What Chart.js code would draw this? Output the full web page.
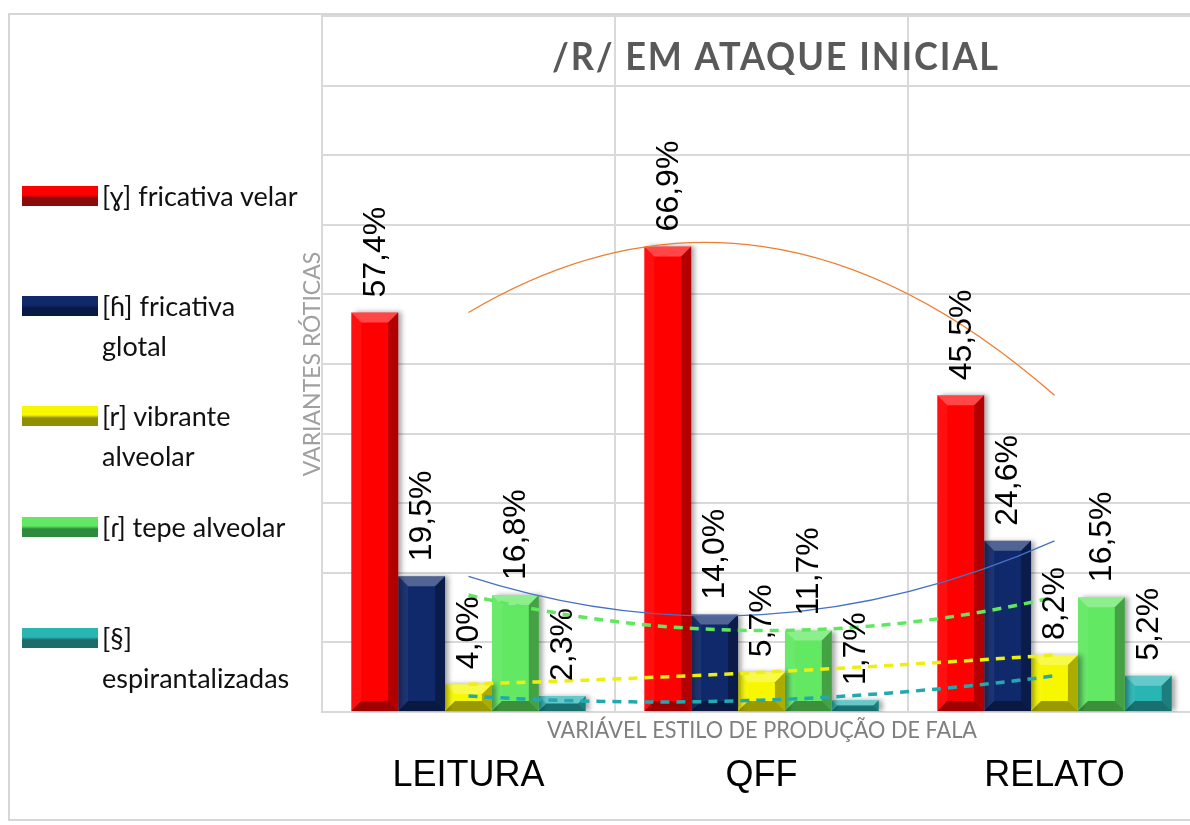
<!DOCTYPE html>
<html>
<head>
<meta charset="utf-8">
<script src="https://cdn.jsdelivr.net/npm/chart.js@4.4.0/dist/chart.umd.min.js"></script>
<style>
  html, body { margin: 0; padding: 0; background: #fff; overflow: hidden; width: 1190px; height: 825px; }
  #frame { position: absolute; left: 8px; top: 13px; width: 1220px; height: 808px; border: 2px solid #d6d6d6; border-right: none; box-sizing: border-box; }
  #legend { position: absolute; left: 0; top: 0; font-family: Lato, "Open Sans", "DejaVu Sans", sans-serif; font-size: 27px; color: #111; }
  .item { position: absolute; left: 22px; }
  .sw { position: absolute; left: 0; top: 10px; width: 76px; height: 20px; }
  .txt { position: absolute; left: 80px; top: 0; line-height: 40px; white-space: nowrap; }
</style>
</head>
<body>
<div id="frame"></div>
<canvas id="rChart" width="1215" height="825" style="position:absolute;left:0;top:0"></canvas>
<div id="legend"></div>
<script>
// Data
const categories = ["LEITURA", "QFF", "RELATO"];
const velar = [57.4, 66.9, 45.5];
const glotal = [19.5, 14.0, 24.6];
const vibrante = [4.0, 5.7, 8.2];
const tepe = [16.8, 11.7, 16.5];
const espirant = [2.3, 1.7, 5.2];
const yMax = 100;
const yStep = 10;

const legendLines = [
  ["[ɣ] fricativa velar"],
  ["[ɦ] fricativa", "glotal"],
  ["[r] vibrante", "alveolar"],
  ["[ɾ] tepe alveolar"],
  ["[§]", "espirantalizadas"]
];
const chartTitle = "/R/ EM ATAQUE INICIAL";
const yTitle = "VARIANTES RÓTICAS";
const xTitle = "VARIÁVEL ESTILO DE PRODUÇÃO DE FALA";

// Colours: bar face, dark edge, trendline
const barColors = ["#ff0000", "#10296b", "#f7f700", "#62e862", "#2ab5b5"];
const darkColors = ["#8b0a0a", "#071a45", "#8f8f00", "#2e8b3e", "#1d6b6b"];
const trendColors = ["#ed7d31", "#4472c4", "#eeee10", "#5fe85f", "#22a8b0"];

const series = [velar, glotal, vibrante, tepe, espirant];

// HTML legend
const legendTops = [176, 286, 396, 507, 618];
const legendEl = document.getElementById("legend");
legendLines.forEach((lines, i) => {
  const item = document.createElement("div");
  item.className = "item";
  item.style.top = legendTops[i] + "px";
  const sw = document.createElement("div");
  sw.className = "sw";
  sw.style.background = `linear-gradient(to bottom, ${barColors[i]} 0%, ${barColors[i]} 45%, ${darkColors[i]} 60%, ${darkColors[i]} 100%)`;
  const txt = document.createElement("div");
  txt.className = "txt";
  txt.innerHTML = lines.join("<br>");
  item.appendChild(sw);
  item.appendChild(txt);
  legendEl.appendChild(item);
});

// 3D look: shadow while drawing bars, bevels afterwards
const bevelPlugin = {
  id: "bevel",
  beforeDatasetDraw(chart, args) {
    if (args.meta.type !== "bar") return;
    const c = chart.ctx;
    c.save();
    c.shadowColor = "rgba(0,0,0,0.35)";
    c.shadowOffsetX = 4;
    c.shadowOffsetY = 0;
    c.shadowBlur = 5;
  },
  afterDatasetDraw(chart, args) {
    if (args.meta.type !== "bar") return;
    const c = chart.ctx;
    c.restore();
    args.meta.data.forEach(el => {
      const p = el.getProps(["x", "y", "base", "width"], true);
      const l = p.x - p.width / 2, r = p.x + p.width / 2, t = p.y, b = p.base;
      const s = Math.min(10, p.width / 4, (b - t) / 2);
      const quad = (pts, col) => {
        c.beginPath();
        c.moveTo(pts[0][0], pts[0][1]);
        for (let k = 1; k < pts.length; k++) c.lineTo(pts[k][0], pts[k][1]);
        c.closePath();
        c.fillStyle = col;
        c.fill();
      };
      quad([[l, t], [r, t], [r - s, t + s], [l + s, t + s]], "rgba(255,255,255,0.28)");
      quad([[l, t], [l + s, t + s], [l + s, b - s], [l, b]], "rgba(255,255,255,0.06)");
      quad([[r, t], [r, b], [r - s, b - s], [r - s, t + s]], "rgba(0,0,0,0.3)");
      quad([[l, b], [r, b], [r - s, b - s], [l + s, b - s]], "rgba(0,0,0,0.38)");
    });
  }
};

// Polynomial (order 2) trendlines: turn the line's bezier handles into the
// parabola through the three category points
const trendPlugin = {
  id: "quadTrend",
  beforeDatasetDraw(chart, args) {
    const meta = args.meta;
    if (meta.type !== "line" || meta.data.length !== 3) return;
    meta.dataset.updateControlPoints(chart.chartArea, meta.iScale.axis);
    const [p0, p1, p2] = meta.data;
    const cx = 2 * p1.x - (p0.x + p2.x) / 2;
    const cy = 2 * p1.y - (p0.y + p2.y) / 2;
    const q1x = (p0.x + cx) / 2, q1y = (p0.y + cy) / 2;
    const q2x = (cx + p2.x) / 2, q2y = (cy + p2.y) / 2;
    p0.cp2x = p0.x + 2 / 3 * (q1x - p0.x); p0.cp2y = p0.y + 2 / 3 * (q1y - p0.y);
    p1.cp1x = p1.x + 2 / 3 * (q1x - p1.x); p1.cp1y = p1.y + 2 / 3 * (q1y - p1.y);
    p1.cp2x = p1.x + 2 / 3 * (q2x - p1.x); p1.cp2y = p1.y + 2 / 3 * (q2y - p1.y);
    p2.cp1x = p2.x + 2 / 3 * (q2x - p2.x); p2.cp1y = p2.y + 2 / 3 * (q2y - p2.y);
    meta.dataset._path = undefined;
  }
};

// Rotated value labels above bars
const labelPlugin = {
  id: "valueLabels",
  afterDatasetsDraw(chart) {
    const c = chart.ctx;
    c.save();
    c.font = "32px 'Liberation Sans', Arial, sans-serif";
    c.fillStyle = "#000";
    c.textAlign = "left";
    c.textBaseline = "middle";
    chart.data.datasets.forEach((ds, i) => {
      const meta = chart.getDatasetMeta(i);
      if (meta.type !== "bar") return;
      meta.data.forEach((el, j) => {
        const txt = ds.data[j].toFixed(1).replace(".", ",") + "%";
        c.save();
        c.translate(el.x, el.y - 15);
        c.rotate(-Math.PI / 2);
        c.fillText(txt, 0, 1);
        c.restore();
      });
    });
    c.restore();
  }
};

// Title inside the plot and x-axis title above the tick labels
const textPlugin = {
  id: "extraText",
  afterDraw(chart) {
    const c = chart.ctx;
    c.save();
    c.textAlign = "center";
    c.textBaseline = "middle";
    c.font = "bold 38px Lato, 'Open Sans', sans-serif";
    c.letterSpacing = "2px";
    c.fillStyle = "#595959";
    let w = c.measureText(chartTitle).width;
    c.translate(776, 58);
    c.scale(448 / w, 1);
    c.fillText(chartTitle, 0, 0);
    c.restore();

    c.save();
    c.textAlign = "center";
    c.textBaseline = "middle";
    c.font = "23px Lato, 'Open Sans', sans-serif";
    c.fillStyle = "#7f7f7f";
    w = c.measureText(xTitle).width;
    c.translate(762, 731);
    c.scale(430 / w, 1);
    c.fillText(xTitle, 0, 0);
    c.restore();
  }
};

const barSets = series.map((vals, i) => ({
  type: "bar",
  data: vals,
  backgroundColor: barColors[i],
  borderWidth: 0,
  categoryPercentage: 0.8,
  barPercentage: 1.0,
  order: 2
}));

const trendSets = series.map((vals, i) => ({
  type: "line",
  data: vals,
  borderColor: trendColors[i],
  borderWidth: i < 2 ? 1.3 : 3.5,
  borderDash: i < 2 ? [] : [9, 7],
  pointRadius: 0,
  fill: false,
  tension: 0.4,
  order: 1
}));

const ctx = document.getElementById("rChart").getContext("2d");
const rChart = new Chart(ctx, {
  data: {
    labels: categories,
    datasets: barSets.concat(trendSets)
  },
  options: {
    responsive: false,
    animation: false,
    layout: { padding: { left: 292, right: 14, top: 16, bottom: 0 } },
    plugins: {
      legend: { display: false },
      tooltip: { enabled: false }
    },
    scales: {
      x: {
        grid: { color: "#d9d9d9", lineWidth: 2, drawTicks: false },
        border: { color: "#d9d9d9", width: 2 },
        ticks: {
          color: "#000",
          padding: 42,
          font: { family: "'Liberation Sans', Arial, sans-serif", size: 36 }
        },
        afterFit(scale) { scale.height = 113; }
      },
      y: {
        min: 0,
        max: yMax,
        grid: { color: "#d9d9d9", lineWidth: 2, drawTicks: false },
        border: { color: "#d9d9d9", width: 2 },
        ticks: { display: false, stepSize: yStep },
        title: {
          display: true,
          text: yTitle,
          color: "#a0a0a0",
          padding: { top: 7, bottom: 0 },
          font: { family: "Lato, 'Open Sans', sans-serif", size: 23 }
        },
        afterFit(scale) { scale.width = 30; }
      }
    }
  },
  plugins: [bevelPlugin, trendPlugin, labelPlugin, textPlugin]
});
</script>
</body>
</html>
